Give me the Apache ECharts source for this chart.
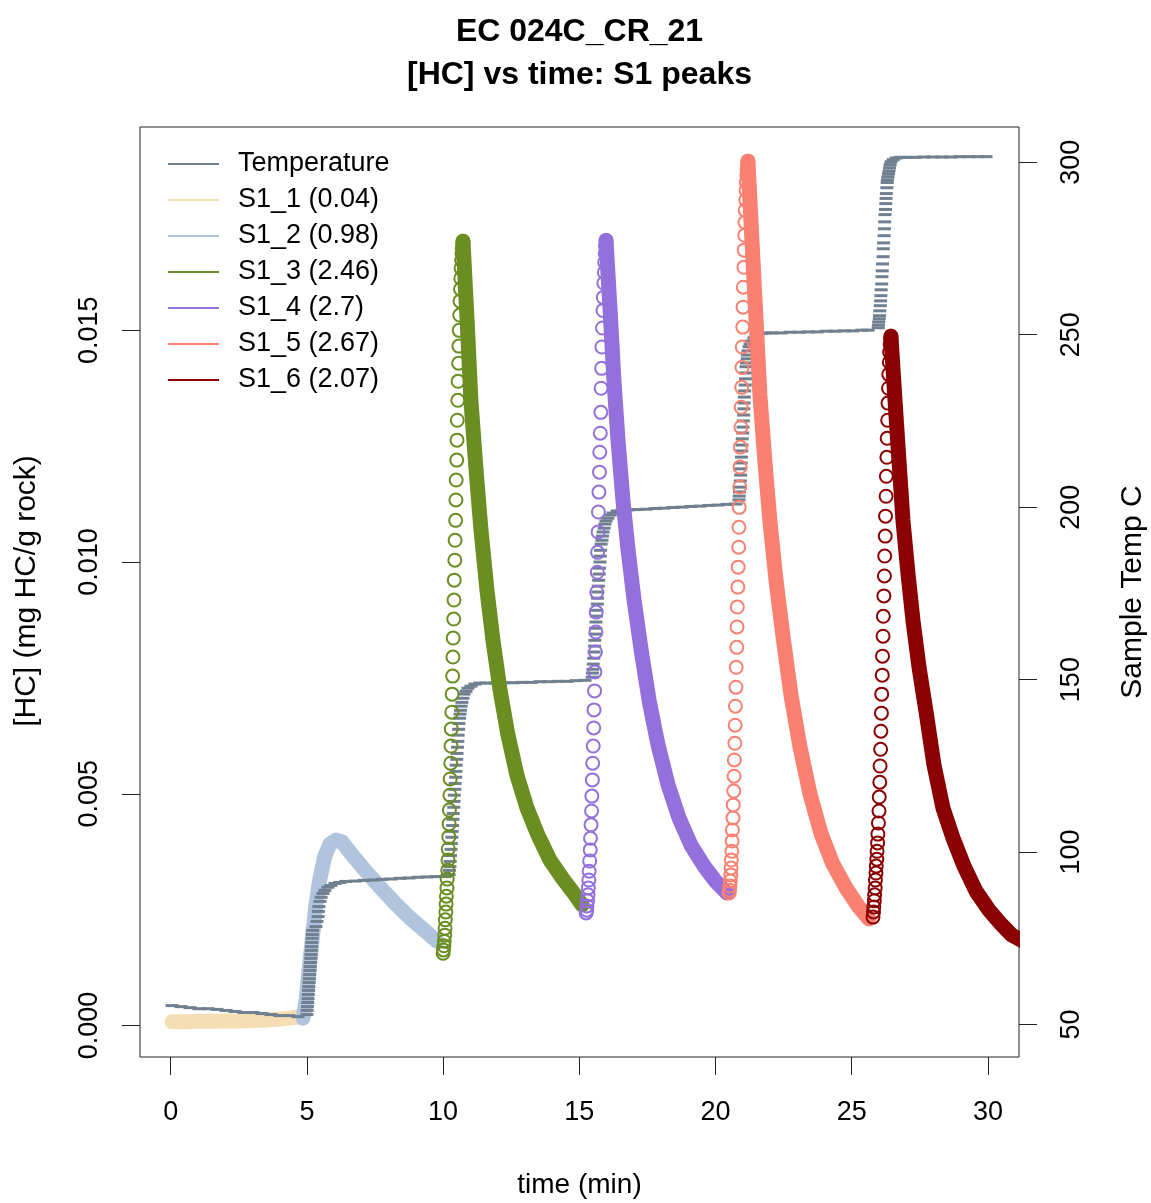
<!DOCTYPE html>
<html>
<head>
<meta charset="utf-8">
<script src="https://cdn.jsdelivr.net/npm/echarts@6/dist/echarts.min.js"></script>
<style>
html,body{margin:0;padding:0;background:#fff;}
#chart{width:1151px;height:1203px;}
</style>
</head>
<body>
<div id="chart"></div>
<script>
// ---------------- DATA ----------------
const titleLines = ['EC 024C_CR_21', '[HC] vs time: S1 peaks'];
const xTicks = [0, 5, 10, 15, 20, 25, 30];
const hcTicks = [0, 0.005, 0.010, 0.015];
const tempTicks = [50, 100, 150, 200, 250, 300];
const peakLabels = ['S1_1', 'S1_2', 'S1_3', 'S1_4', 'S1_5', 'S1_6'];
const peakAreas = ['0.04', '0.98', '2.46', '2.7', '2.67', '2.07'];

// Temperature (Sample Temp C) vs time (min)
const tempTime = [
  0.05,0.38,0.71,1.04,1.37,1.70,2.03,2.36,2.69,3.02,3.35,3.68,4.01,4.34,4.67,
  5.00,5.01,5.02,5.03,5.04,5.05,5.06,5.07,5.08,5.09,5.10,5.11,5.12,5.13,5.14,5.15,5.16,5.17,5.18,5.19,5.20,5.21,
  5.33,5.37,5.41,5.42,5.44,5.48,5.52,5.59,5.66,5.77,5.88,6.03,6.21,6.43,
  6.77,7.10,7.43,7.76,8.09,8.42,8.75,9.08,9.41,9.74,10.07,10.14,
  10.22,10.23,10.25,10.26,10.27,10.29,10.30,10.32,10.33,10.35,10.36,10.37,10.39,10.40,10.41,10.43,10.44,10.46,10.47,10.48,10.50,10.51,10.53,10.54,10.55,10.57,10.58,
  10.60,10.62,10.64,10.66,10.69,10.73,10.77,10.84,10.91,11.02,11.17,11.35,
  11.58,11.91,12.24,12.57,12.90,13.23,13.56,13.89,14.22,14.55,14.88,15.21,
  15.47,15.48,15.50,15.51,15.53,15.54,15.56,15.57,15.58,15.60,15.61,15.63,15.64,15.66,15.67,15.68,15.70,15.71,15.73,15.74,15.76,15.77,15.78,15.80,
  15.83,15.85,15.87,15.91,15.94,15.98,16.05,16.13,16.24,16.39,16.57,
  16.79,17.12,17.45,17.78,18.11,18.44,18.77,19.10,19.43,19.76,20.09,20.42,20.75,
  20.86,20.87,20.88,20.89,20.91,20.92,20.93,20.94,20.95,20.96,20.97,20.98,21.00,21.01,21.02,21.03,21.04,21.05,21.06,21.07,21.09,21.10,21.11,21.12,
  21.14,21.16,21.17,21.19,21.23,21.27,21.34,21.41,21.52,21.67,21.85,
  22.07,22.40,22.73,23.07,23.40,23.73,24.06,24.39,24.72,25.04,25.37,25.60,
  25.97,25.98,25.99,26.01,26.02,26.03,26.05,26.06,26.07,26.08,26.10,26.11,26.12,26.13,26.15,26.16,26.17,26.19,26.20,26.21,26.22,26.24,26.25,26.26,26.27,26.29,26.30,
  26.31,26.33,26.35,26.37,26.39,26.41,26.44,26.52,26.63,26.78,
  26.99,27.32,27.65,27.98,28.31,28.64,28.97,29.30,29.63,29.93
];
const tempValue = [
  55.5,55.2,54.9,54.6,54.6,54.4,54.1,53.8,53.5,53.5,53.2,52.9,52.6,52.6,52.3,
  52.9,54.1,55.2,56.4,57.5,58.7,59.9,61.0,62.2,63.3,64.5,65.7,66.8,68.0,69.2,70.3,71.5,72.6,73.8,75.0,76.1,77.3,
  78.4,79.9,81.3,82.8,84.2,85.7,86.9,88.0,88.9,89.8,90.3,90.9,91.2,91.5,
  91.6,91.8,91.9,92.1,92.2,92.4,92.5,92.7,92.8,92.9,92.9,93.2,
  93.5,94.7,95.8,97.3,99.0,100.8,102.5,104.3,106.0,107.7,109.5,111.2,113.0,114.7,116.5,118.2,119.9,121.7,123.4,125.2,126.9,128.6,130.4,132.1,133.9,135.6,137.3,
  138.8,140.0,141.1,142.3,143.4,144.6,145.8,146.6,147.5,148.1,148.7,149.0,
  149.0,149.0,149.1,149.1,149.2,149.2,149.4,149.4,149.5,149.5,149.7,149.8,
  150.7,151.9,153.0,154.5,156.2,158.0,159.7,161.4,163.2,164.9,166.7,168.4,170.1,171.9,173.6,175.4,177.1,178.8,180.6,182.3,184.1,185.8,187.5,189.3,
  190.4,191.6,192.8,193.9,195.1,196.0,196.8,197.7,198.3,198.9,199.2,
  199.2,199.3,199.4,199.6,199.7,199.9,200.0,200.2,200.3,200.5,200.6,200.8,200.9,
  202.1,203.2,204.4,205.8,207.6,209.3,211.1,212.8,214.5,216.3,218.0,219.8,221.5,223.2,225.0,226.7,228.5,230.2,231.9,233.7,235.4,237.2,238.9,240.7,
  241.8,243.0,244.1,245.3,246.5,247.3,248.2,249.1,249.7,250.3,250.5,
  250.5,250.5,250.7,250.7,250.8,250.8,251.0,251.0,251.1,251.1,251.3,251.3,
  252.0,252.8,253.7,254.6,255.5,256.9,258.4,259.8,261.3,263.0,264.7,266.8,268.5,270.5,272.6,274.9,276.6,278.7,280.7,282.7,284.8,286.3,288.0,289.5,290.9,292.6,294.1,
  294.9,295.8,296.7,297.5,298.4,299.3,300.1,300.7,301.2,301.4,
  301.4,301.4,301.5,301.5,301.5,301.5,301.6,301.6,301.6,301.6
];

// S1_1 (flat, dense band)
const s1_1Time  = [0.05,0.5,1.0,1.5,2.0,2.5,3.0,3.5,4.0,4.5,4.85];
const s1_1Value = [0.00008,0.00008,0.00009,0.00009,0.0001,0.0001,0.00011,0.00012,0.00014,0.00017,0.0002];

// S1_2 (dense band)
const s1_2Time  = [4.86,4.97,5.08,5.19,5.33,5.48,5.66,5.85,6.07,6.29,6.58,7.13,7.68,8.23,8.79,9.34,9.78];
const s1_2Value = [0.00016,0.00055,0.0012,0.00184,0.0026,0.00318,0.00366,0.00392,0.0040,0.00396,0.00374,0.00335,0.00299,0.00264,0.00232,0.00204,0.00182];

// S1_3 rising samples (separate circles) and decay (dense band)
const s1_3RiseTime = [10.00,10.01,10.03,10.04,10.06,10.07,10.08,10.10,10.11,10.12,10.14,10.15,10.17,10.18,10.19,10.21,10.22,10.23,10.25,10.26,10.28,10.29,10.30,10.32,10.33,10.35,10.36,10.37,10.39,10.40,10.41,10.43,10.44,10.46,10.47,10.48,10.50,10.51,10.52,10.54,10.55,10.57,10.58,10.59,10.61,10.62,10.64,10.65,10.66,10.68,10.69,10.70,10.72,10.73];
const s1_3RiseValue = [0.00156,0.00163,0.00172,0.00182,0.00195,0.00210,0.00228,0.00245,0.00262,0.00279,0.00297,0.00316,0.00335,0.00357,0.00381,0.00407,0.00435,0.00465,0.00497,0.00532,0.00566,0.00603,0.00640,0.00676,0.00715,0.00754,0.00795,0.00836,0.00877,0.00918,0.00961,0.01004,0.01047,0.01090,0.01134,0.01177,0.01220,0.01263,0.01306,0.01349,0.01390,0.01429,0.01466,0.01500,0.01533,0.01563,0.01589,0.01612,0.01634,0.01651,0.01666,0.01677,0.01686,0.01692];
const s1_3DecayTime  = [10.73,10.88,11.02,11.21,11.39,11.61,11.83,12.09,12.38,12.71,13.08,13.48,13.92,14.40,14.84,15.10];
const s1_3DecayValue = [0.01692,0.01522,0.01349,0.01198,0.01069,0.00939,0.00831,0.00724,0.00627,0.00540,0.00469,0.00411,0.00357,0.00316,0.00282,0.00260];

// S1_4
const s1_4RiseTime = [15.25,15.27,15.28,15.30,15.32,15.33,15.35,15.36,15.38,15.40,15.41,15.43,15.45,15.46,15.48,15.49,15.51,15.53,15.54,15.56,15.57,15.59,15.61,15.62,15.64,15.66,15.67,15.69,15.70,15.72,15.74,15.75,15.77,15.79,15.80,15.82,15.83,15.85,15.87,15.88,15.90,15.92,15.93,15.95,15.96,15.98];
const s1_4RiseValue = [0.00243,0.00249,0.00258,0.00269,0.00282,0.00297,0.00314,0.00333,0.00355,0.00379,0.00404,0.00433,0.00463,0.00495,0.00530,0.00566,0.00603,0.00642,0.00681,0.00722,0.00763,0.00806,0.00849,0.00892,0.00935,0.00978,0.01021,0.01065,0.01108,0.01151,0.01194,0.01237,0.01278,0.01323,0.01375,0.01418,0.01464,0.01505,0.01543,0.01571,0.01602,0.01625,0.01647,0.01666,0.01681,0.01694];
const s1_4DecayTime  = [15.98,16.13,16.27,16.42,16.60,16.79,17.01,17.27,17.56,17.89,18.26,18.66,19.10,19.58,20.02,20.42];
const s1_4DecayValue = [0.01694,0.01543,0.01392,0.01263,0.01134,0.01026,0.00918,0.00810,0.00702,0.00605,0.00519,0.00448,0.00389,0.00344,0.00310,0.00286];

// S1_5
const s1_5RiseTime = [20.50,20.51,20.53,20.54,20.56,20.57,20.58,20.60,20.61,20.62,20.64,20.65,20.67,20.68,20.69,20.71,20.72,20.73,20.75,20.76,20.78,20.79,20.80,20.82,20.83,20.85,20.86,20.87,20.89,20.90,20.91,20.93,20.94,20.96,20.97,20.98,21.00,21.01,21.02,21.04,21.05,21.07,21.08,21.09,21.11,21.12,21.13,21.15,21.16,21.18,21.19];
const s1_5RiseValue = [0.00286,0.00292,0.00301,0.00312,0.00325,0.00340,0.00357,0.00376,0.00398,0.00422,0.00448,0.00476,0.00506,0.00538,0.00573,0.00609,0.00648,0.00689,0.00730,0.00773,0.00816,0.00860,0.00903,0.00946,0.00989,0.01032,0.01075,0.01118,0.01162,0.01205,0.01248,0.01291,0.01334,0.01377,0.01420,0.01464,0.01507,0.01550,0.01593,0.01636,0.01673,0.01705,0.01733,0.01759,0.01781,0.01802,0.01819,0.01835,0.01848,0.01858,0.01865];
const s1_5DecayTime  = [21.19,21.34,21.49,21.63,21.82,22.00,22.22,22.48,22.77,23.10,23.47,23.87,24.31,24.79,25.23,25.63];
const s1_5DecayValue = [0.01865,0.01690,0.01519,0.01360,0.01211,0.01086,0.00961,0.00838,0.00713,0.00601,0.00499,0.00415,0.00348,0.00297,0.00258,0.00230];

// S1_6
const s1_6RiseTime = [25.78,25.80,25.81,25.83,25.84,25.86,25.87,25.89,25.90,25.92,25.93,25.95,25.96,25.98,26.00,26.01,26.03,26.04,26.06,26.07,26.09,26.10,26.12,26.13,26.15,26.16,26.18,26.20,26.21,26.23,26.24,26.26,26.27,26.29,26.30,26.32,26.33,26.35,26.36,26.38,26.39,26.41,26.43,26.44];
const s1_6RiseValue = [0.00234,0.00245,0.00256,0.00269,0.00282,0.00297,0.00314,0.00329,0.00344,0.00359,0.00376,0.00394,0.00413,0.00437,0.00463,0.00493,0.00525,0.00560,0.00596,0.00635,0.00674,0.00715,0.00756,0.00797,0.00840,0.00883,0.00927,0.00970,0.01013,0.01056,0.01099,0.01142,0.01185,0.01226,0.01267,0.01306,0.01343,0.01375,0.01405,0.01431,0.01453,0.01470,0.01481,0.01487];
const s1_6DecayTime  = [26.44,26.59,26.74,26.88,27.07,27.25,27.47,27.73,28.02,28.35,28.72,29.12,29.56,30.04,30.48,30.88,31.55];
const s1_6DecayValue = [0.01487,0.01347,0.01213,0.01090,0.00972,0.00873,0.00773,0.00676,0.00562,0.00469,0.00404,0.00344,0.00290,0.00249,0.00219,0.00195,0.00174];

// ---------------- STYLE ----------------
const FONT = '"Liberation Sans", Arial, Helvetica, sans-serif';
const tempColor = '#708090';
const peakColors = ['#F5DEB3', '#B0C4DE', '#6B8E23', '#9370DB', '#FA8072', '#8B0000'];
const BAND = 15, CIRCLE = 13, RING = 2;

function pairs(ts, vs) {
  const n = Math.min(ts.length, vs.length), out = [];
  for (let i = 0; i < n; i++) out.push([ts[i], vs[i]]);
  return out;
}
const peakNames = peakLabels.map((l, i) => l + ' (' + peakAreas[i] + ')');

const bands = [
  pairs(s1_1Time, s1_1Value), pairs(s1_2Time, s1_2Value),
  pairs(s1_3DecayTime, s1_3DecayValue), pairs(s1_4DecayTime, s1_4DecayValue),
  pairs(s1_5DecayTime, s1_5DecayValue), pairs(s1_6DecayTime, s1_6DecayValue)
];
const rises = [
  null, null,
  pairs(s1_3RiseTime, s1_3RiseValue), pairs(s1_4RiseTime, s1_4RiseValue),
  pairs(s1_5RiseTime, s1_5RiseValue), pairs(s1_6RiseTime, s1_6RiseValue)
];

const series = [];
peakNames.forEach((name, i) => {
  series.push({
    name: name, type: 'line', xAxisIndex: 0, yAxisIndex: 0,
    data: bands[i], color: peakColors[i], symbol: 'none', showSymbol: false,
    lineStyle: { width: BAND, color: peakColors[i], cap: 'round', join: 'round', opacity: 1 },
    z: i < 2 ? 2 : 4, silent: true, animation: false
  });
  if (rises[i]) {
    series.push({
      name: name, type: 'scatter', xAxisIndex: 0, yAxisIndex: 0,
      data: rises[i], symbol: 'circle', symbolSize: CIRCLE,
      itemStyle: { color: 'rgba(0,0,0,0)', borderColor: peakColors[i], borderWidth: RING, opacity: 1 },
      z: 4, silent: true, animation: false
    });
  }
});
series.push({
  name: 'Temperature', type: 'scatter', xAxisIndex: 0, yAxisIndex: 1,
  data: pairs(tempTime, tempValue), symbol: 'rect', symbolSize: [13, 3],
  itemStyle: { color: tempColor, opacity: 1 }, color: tempColor,
  z: 3, silent: true, animation: false
});

const legendNames = ['Temperature'].concat(peakNames);

const chart = echarts.init(document.getElementById('chart'), null, { renderer: 'canvas' });
chart.setOption({
  animation: false,
  backgroundColor: '#ffffff',
  textStyle: { fontFamily: FONT, color: '#000' },
  grid: {
    left: 140, right: 132, top: 127, bottom: 146,
    show: true, borderColor: '#222', borderWidth: 1, backgroundColor: 'rgba(0,0,0,0)',
    containLabel: false, outerBoundsMode: 'none'
  },
  xAxis: {
    type: 'value', min: -1.127, max: 31.14,
    splitLine: { show: false },
    axisLine: { show: false, onZero: false },
    axisTick: { show: true, length: 18, customValues: xTicks, lineStyle: { color: '#222', width: 1 } },
    axisLabel: { customValues: xTicks, fontSize: 27, color: '#000', margin: 42, fontFamily: FONT }
  },
  yAxis: [
    {
      type: 'value', position: 'left', min: -0.000679, max: 0.019387,
      splitLine: { show: false },
      axisLine: { show: false, onZero: false },
      axisTick: { show: true, length: 18, customValues: hcTicks, lineStyle: { color: '#222', width: 1 } },
      axisLabel: { customValues: hcTicks, rotate: 90, fontSize: 27, color: '#000', margin: 37, fontFamily: FONT,
                   formatter: v => Number(v).toFixed(3) }
    },
    {
      type: 'value', position: 'right', min: 40.6, max: 310.2,
      splitLine: { show: false },
      axisLine: { show: false, onZero: false },
      axisTick: { show: true, length: 18, customValues: tempTicks, lineStyle: { color: '#222', width: 1 } },
      axisLabel: { customValues: tempTicks, rotate: 90, fontSize: 27, color: '#000', margin: 39, fontFamily: FONT,
                   formatter: v => String(v) }
    }
  ],
  legend: {
    show: true, orient: 'vertical', left: 163, top: 144,
    itemWidth: 51, itemHeight: 2, itemGap: 6, selectedMode: false,
    textStyle: { fontSize: 27, color: '#000', fontFamily: FONT, lineHeight: 30, padding: [0, 0, 0, 14] },
    data: legendNames.map(n => ({ name: n, icon: 'rect' }))
  },
  graphic: [
    { type: 'text', x: 579.5, y: 32, silent: true,
      style: { text: titleLines[0], font: 'bold 32px ' + FONT, fill: '#000', align: 'center', verticalAlign: 'middle', textAlign: 'center', textVerticalAlign: 'middle' } },
    { type: 'text', x: 579.5, y: 75, silent: true,
      style: { text: titleLines[1], font: 'bold 32px ' + FONT, fill: '#000', align: 'center', verticalAlign: 'middle', textAlign: 'center', textVerticalAlign: 'middle' } },
    { type: 'text', x: 579.5, y: 1185, silent: true,
      style: { text: 'time (min)', font: '28px ' + FONT, fill: '#000', align: 'center', verticalAlign: 'middle', textAlign: 'center', textVerticalAlign: 'middle' } },
    { type: 'text', x: 27, y: 591, rotation: Math.PI / 2, silent: true,
      style: { text: '[HC] (mg HC/g rock)', font: '30px ' + FONT, fill: '#000', align: 'center', verticalAlign: 'middle', textAlign: 'center', textVerticalAlign: 'middle' } },
    { type: 'text', x: 1133, y: 592, rotation: Math.PI / 2, silent: true,
      style: { text: 'Sample Temp C', font: '30px ' + FONT, fill: '#000', align: 'center', verticalAlign: 'middle', textAlign: 'center', textVerticalAlign: 'middle' } },
    { type: 'rect', z: 100, silent: true, shape: { x: 1020, y: 900, width: 14, height: 75 }, style: { fill: '#ffffff' } }
  ],
  series: series
});
</script>
</body>
</html>
